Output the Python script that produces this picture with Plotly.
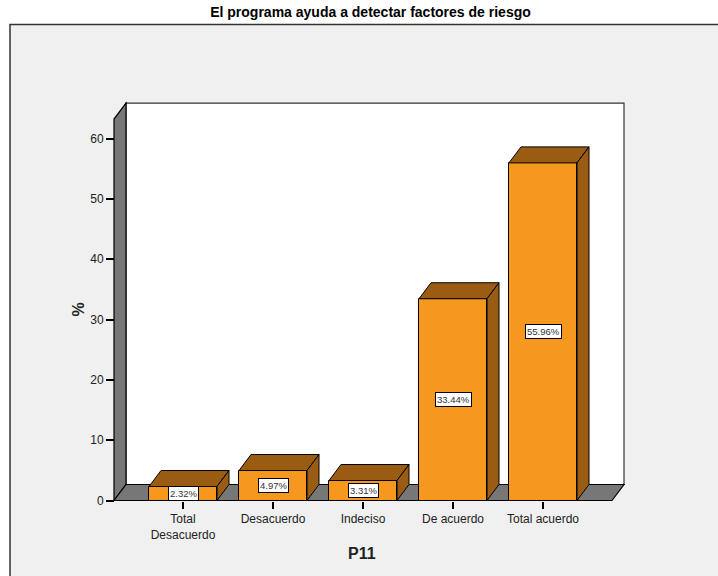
import plotly.graph_objects as go

# ---- data ----
categories = ["Total<br>Desacuerdo", "Desacuerdo", "Indeciso", "De acuerdo", "Total acuerdo"]
percent = [2.32, 4.97, 3.31, 33.44, 55.96]
label_text = ["2.32%", "4.97%", "3.31%", "33.44%", "55.96%"]
y_ticks = [0, 10, 20, 30, 40, 50, 60]

# ---- style / geometry ----
W, H = 718, 576
FRONT = "#F7981E"
SIDE = "#995C12"
WALL = "#777777"
BG = "#F0F0F0"
FONT = "Liberation Sans, Arial, sans-serif"

PX_PER_X = 90.0          # pixels per category
X_ZERO_PX = 183.0        # pixel of first category centre
PX_PER_Y = 6.033         # pixels per percent
Y_ZERO_PX = 500.5        # pixel of y = 0 (from top)
BAR_W = 68 / PX_PER_X
DDX = 12 / PX_PER_X      # 3D depth offset
DDY = 16 / PX_PER_Y
X_PAD = 0.7667           # floor extension beyond outer bars
Y_TOP = 63.23            # top of the walls

x_range = [-X_ZERO_PX / PX_PER_X, (W - X_ZERO_PX) / PX_PER_X]
y_range = [(Y_ZERO_PX - H) / PX_PER_Y, Y_ZERO_PX / PX_PER_Y]

xs = list(range(len(categories)))
xmin, xmax = xs[0] - X_PAD, xs[-1] + X_PAD

fig = go.Figure()

# front faces of bars
fig.add_trace(go.Bar(
    x=xs, y=percent, width=BAR_W,
    marker=dict(color=FRONT, line=dict(color="black", width=1)),
    hoverinfo="skip", showlegend=False,
))

# top and side faces
for x, v in zip(xs, percent):
    l, r = x - BAR_W / 2, x + BAR_W / 2
    fig.add_trace(go.Scatter(
        x=[l, r, r + DDX, l + DDX, l], y=[v, v, v + DDY, v + DDY, v],
        mode="lines", fill="toself", fillcolor=SIDE,
        line=dict(color="black", width=1), hoverinfo="skip", showlegend=False,
    ))
    fig.add_trace(go.Scatter(
        x=[r, r, r + DDX, r + DDX, r], y=[0, v, v + DDY, DDY, 0],
        mode="lines", fill="toself", fillcolor=SIDE,
        line=dict(color="black", width=1), hoverinfo="skip", showlegend=False,
    ))

def path(pts):
    return "M " + " L ".join(f"{a},{b}" for a, b in pts) + " Z"

shapes = [
    # outer frame
    dict(type="rect", xref="paper", yref="paper", x0=10 / W, x1=1.05, y0=-0.05, y1=1 - 24.5 / H,
         fillcolor=BG, line=dict(color="#333333", width=1.5), layer="below"),
    # back wall
    dict(type="path", xref="x", yref="y",
         path=path([(xmin + DDX, DDY), (xmin + DDX, Y_TOP + DDY), (xmax + DDX, Y_TOP + DDY), (xmax + DDX, DDY)]),
         fillcolor="white", line=dict(color="#333333", width=1.2), layer="below"),
    # left wall
    dict(type="path", xref="x", yref="y",
         path=path([(xmin, 0), (xmin, Y_TOP), (xmin + DDX, Y_TOP + DDY), (xmin + DDX, DDY)]),
         fillcolor=WALL, line=dict(color="black", width=1.2), layer="below"),
    # floor
    dict(type="path", xref="x", yref="y",
         path=path([(xmin, 0), (xmax, 0), (xmax + DDX, DDY), (xmin + DDX, DDY)]),
         fillcolor=WALL, line=dict(color="black", width=1.2), layer="below"),
]

annotations = [
    dict(x=x, y=v / 2, xref="x", yref="y", text=t, showarrow=False,
         font=dict(family=FONT, size=9.5, color="#333333"),
         bgcolor="white", bordercolor="black", borderwidth=1, borderpad=1)
    for x, v, t in zip(xs, percent, label_text)
]
# axis titles
annotations.append(dict(x=362 / W, y=1 - 553 / H, xref="paper", yref="paper",
                        text="<b>P11</b>", showarrow=False, xanchor="center", yanchor="middle",
                        font=dict(family=FONT, size=16, color="#222222")))
annotations.append(dict(x=77.5 / W, y=1 - 310 / H, xref="paper", yref="paper",
                        text="<b>%</b>", showarrow=False, textangle=-90,
                        xanchor="center", yanchor="middle",
                        font=dict(family=FONT, size=16, color="#222222")))

fig.update_layout(
    width=W, height=H,
    margin=dict(l=0, r=0, t=0, b=0, autoexpand=False),
    paper_bgcolor="white", plot_bgcolor="rgba(0,0,0,0)",
    font=dict(family=FONT, size=12, color="#222222"),
    title=dict(text="<b>El programa ayuda a detectar factores de riesgo</b>",
               x=370.5 / W, xanchor="center", y=1 - 12 / H, yanchor="middle",
               font=dict(family=FONT, size=14, color="black")),
    shapes=shapes, annotations=annotations,
    bargap=0,
    xaxis=dict(range=x_range, tickvals=xs, ticktext=categories,
               anchor="free", position=1 - Y_ZERO_PX / H,
               showline=False, showgrid=False, zeroline=False,
               ticks="outside", ticklen=7, tickwidth=1.5, tickcolor="black",
               tickfont=dict(family=FONT, size=12, color="#222222")),
    yaxis=dict(range=y_range, tickvals=y_ticks,
               anchor="free", position=114 / W,
               showline=False, showgrid=False, zeroline=False,
               ticks="outside", ticklen=8, tickwidth=1.5, tickcolor="black",
               tickfont=dict(family=FONT, size=12, color="#222222")),
)

fig.write_html("out.html")
